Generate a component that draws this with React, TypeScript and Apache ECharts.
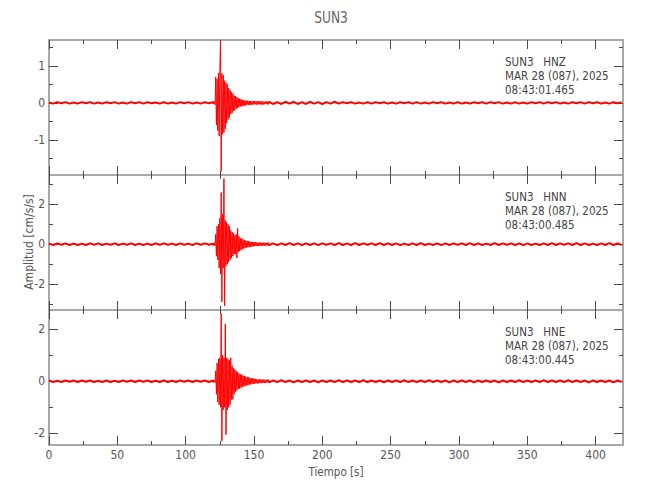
import React, { useEffect, useRef } from "react";
import * as echarts from "echarts";

const FONT = "'Liberation Sans Narrow', 'DejaVu Sans Condensed', 'Roboto Condensed', 'DejaVu Sans', sans-serif";

const xMajorTicks = [0, 50, 100, 150, 200, 250, 300, 350, 400];
const xMinorTicks = [25, 75, 125, 175, 225, 275, 325, 375];

const titleText = "SUN3";
const stationLines = ["SUN3   HNZ", "SUN3   HNN", "SUN3   HNE"];
const dateLine = "MAR 28 (087), 2025";
const startTimes = ["08:43:01.465", "08:43:00.485", "08:43:00.445"];

const yRanges = [
  [-1.95, 1.7],
  [-3.31, 3.48],
  [-2.45, 2.74],
];
const yMajorTicks = [
  [-1, 0, 1],
  [-2, 0, 2],
  [-2, 0, 2],
];
const yMinorTicks = [
  [-1.5, -0.5, 0.5, 1.5],
  [-3, -1, 1, 3],
  [-1, 1],
];

const PRE_START = 0, PRE_STEP = 3;
const EVT_START = 120.5, EVT_STEP = 0.5;
const POST_START = 161, POST_STEP = 3;

// HNZ
const hnzPre = [0.01,-0.02,0.02,-0.01,0.02,-0.02,0.01,-0.02,0.02,-0.01,0.02,-0.02,0.01,-0.02,0.02,-0.01,0.02,-0.02,0.01,-0.02,0.02,-0.01,0.02,-0.02,0.02,-0.01,0.01,-0.02,0.02,-0.02,0.01,-0.02,0.02,-0.01,0.02,-0.02,0.01,-0.02,0.02,-0.01,0.02];
const hnzEvent = [
  -0.03,0.04,-0.05,0.7,-0.6,0.65,-0.75,0.8,-0.9,0.9,
  1.7,-1.85,0.8,-0.85,0.75,-0.8,0.6,-0.7,0.55,-0.55,
  0.5,-0.45,0.4,-0.4,0.35,-0.3,0.3,-0.28,0.25,-0.22,
  0.2,-0.2,0.18,-0.16,0.15,-0.14,0.13,-0.12,0.11,-0.1,
  0.1,-0.09,0.08,-0.09,0.07,-0.07,0.06,-0.07,0.06,-0.05,
  0.06,-0.05,0.05,-0.06,0.05,-0.05,0.04,-0.05,0.05,-0.04,
  0.05,-0.04,0.04,-0.05,0.04,-0.04,0.05,-0.04,0.04,-0.04,
  0.04,-0.05,0.04,-0.04,0.03,-0.04,0.04,-0.03,0.04,-0.04,
];
const hnzPost = [
  0.03,-0.03,0.02,-0.03,0.03,-0.02,0.03,-0.03,0.02,-0.03,
  0.03,-0.02,0.02,-0.03,0.02,-0.02,0.03,-0.02,0.02,-0.01,
  0.02,-0.02,0.01,-0.02,0.02,-0.02,0.02,-0.01,0.02,-0.02,
  0.01,-0.02,0.02,-0.01,0.02,-0.02,0.02,-0.02,0.01,-0.02,
  0.02,-0.01,0.02,-0.02,0.01,-0.02,0.02,-0.02,0.01,-0.02,
  0.02,-0.01,0.02,-0.02,0.02,-0.01,0.02,-0.02,0.01,-0.02,
  0.02,-0.02,0.01,-0.02,0.02,-0.01,0.02,-0.02,0.02,-0.01,
  0.02,-0.02,0.01,-0.02,0.02,-0.01,0.02,-0.02,0.02,-0.01,
  0.02,-0.02,0.01,-0.02,0.02,-0.01,0.02,
];

// HNN
const hnnPre = [
  0.03,-0.04,0.04,-0.03,0.04,-0.04,0.03,-0.04,0.03,-0.04,
  0.04,-0.03,0.04,-0.04,0.03,-0.03,0.04,-0.04,0.03,-0.03,
  0.04,-0.04,0.03,-0.04,0.03,-0.04,0.04,-0.03,0.04,-0.03,
  0.03,-0.04,0.04,-0.03,0.03,-0.04,0.04,-0.03,0.04,-0.03,
  0.03,
];
const hnnEvent = [
  -0.06,0.07,-0.08,0.5,-0.6,0.9,-0.8,1.0,-1.2,1.3,
  -1.5,2.6,-2.9,1.5,-1.2,3.3,-3.1,1.2,-1.1,1.1,
  -1.0,1.0,-0.9,0.9,-0.8,0.7,-0.7,0.6,-0.6,0.55,
  -0.5,0.45,-0.5,0.5,-0.7,0.8,-0.4,0.4,-0.35,0.3,
  -0.3,0.28,-0.25,0.25,-0.22,0.2,-0.2,0.18,-0.17,0.16,
  -0.15,0.15,-0.14,0.13,-0.13,0.12,-0.12,0.11,-0.11,0.1,
  -0.1,0.1,-0.09,0.09,-0.09,0.08,-0.09,0.08,-0.08,0.08,
  -0.08,0.07,-0.08,0.07,-0.07,0.08,-0.07,0.07,-0.07,0.07,
];
const hnnPost = [
  -0.05,0.04,-0.05,0.04,-0.04,0.05,-0.04,0.04,-0.05,0.04,
  -0.04,0.04,-0.05,0.04,-0.03,0.04,-0.04,0.05,-0.04,0.04,
  -0.04,0.05,-0.04,0.04,-0.03,0.04,-0.04,0.05,-0.04,0.04,
  -0.04,0.04,-0.05,0.03,-0.04,0.04,-0.04,0.05,-0.04,0.03,
  -0.04,0.04,-0.05,0.04,-0.04,0.04,-0.03,0.04,-0.04,0.05,
  -0.04,0.04,-0.04,0.03,-0.04,0.05,-0.04,0.04,-0.03,0.04,
  -0.04,0.04,-0.05,0.04,-0.04,0.03,-0.04,0.04,-0.04,0.05,
  -0.04,0.04,-0.03,0.04,-0.04,0.05,-0.04,0.04,-0.04,0.03,
  -0.04,0.04,-0.04,0.05,-0.04,0.04,-0.04,
];

// HNE
const hnePre = [
  0.03,-0.03,0.02,-0.03,0.03,-0.02,0.03,-0.03,0.03,-0.02,
  0.03,-0.03,0.02,-0.03,0.03,-0.03,0.02,-0.03,0.03,-0.02,
  0.03,-0.03,0.03,-0.02,0.03,-0.03,0.02,-0.03,0.03,-0.03,
  0.02,-0.03,0.03,-0.02,0.03,-0.03,0.03,-0.02,0.03,-0.03,
  0.03,
];
const hneEvent = [
  -0.04,0.05,-0.05,0.4,-0.5,0.7,-0.8,0.85,-0.9,0.9,
  -1.0,2.6,-2.3,1.0,-1.1,0.9,-1.0,2.2,-2.05,0.9,
  -1.1,0.85,-1.0,0.8,-0.9,0.9,-0.7,0.6,-0.7,0.5,
  -0.5,0.45,-0.4,0.4,-0.35,0.35,-0.3,0.3,-0.28,0.28,
  -0.25,0.25,-0.22,0.22,-0.2,0.2,-0.18,0.18,-0.16,0.16,
  -0.15,0.15,-0.13,0.13,-0.12,0.12,-0.11,0.11,-0.1,0.1,
  -0.09,0.09,-0.08,0.08,-0.08,0.07,-0.08,0.07,-0.07,0.07,
  -0.06,0.07,-0.06,0.06,-0.07,0.06,-0.06,0.06,-0.05,0.06,
];
const hnePost = [
  -0.04,0.03,-0.03,0.04,-0.03,0.03,-0.04,0.03,-0.03,0.03,
  -0.03,0.03,-0.04,0.03,-0.03,0.03,-0.03,0.04,-0.03,0.03,
  -0.03,0.03,-0.03,0.04,-0.03,0.03,-0.03,0.03,-0.04,0.03,
  -0.03,0.03,-0.03,0.04,-0.03,0.03,-0.03,0.03,-0.03,0.04,
  -0.03,0.03,-0.03,0.03,-0.04,0.03,-0.03,0.03,-0.03,0.03,
  -0.04,0.03,-0.03,0.03,-0.03,0.03,-0.04,0.03,-0.03,0.03,
  -0.03,0.04,-0.03,0.03,-0.03,0.03,-0.03,0.04,-0.03,0.03,
  -0.03,0.03,-0.03,0.04,-0.03,0.03,-0.03,0.03,-0.04,0.03,
  -0.03,0.03,-0.03,0.03,-0.04,0.03,-0.03,
];

function toPoints(values: number[], start: number, step: number) {
  return values.map((v, i) => [start + i * step, v]);
}

const traces = [
  [hnzPre, hnzEvent, hnzPost],
  [hnnPre, hnnEvent, hnnPost],
  [hnePre, hneEvent, hnePost],
].map(([pre, evt, post]) => {
  const p = toPoints(pre, PRE_START, PRE_STEP);
  const e = toPoints(evt, EVT_START, EVT_STEP);
  const q = toPoints(post, POST_START, POST_STEP);
  return { pre: [...p, e[0]], evt: e, post: [e[e.length - 1], ...q] };
});

const AXIS_COLOR = "#a8a8a8";
const TICK_COLOR = "#4a4a4a";
const TEXT_COLOR = "#555555";
const PLOT_LEFT = 49;
const PLOT_WIDTH = 574;
const PANEL_TOPS = [40, 175, 310];
const PANEL_HEIGHT = 135;

function buildOption() {
  const grid: any[] = [];
  const xAxis: any[] = [];
  const yAxis: any[] = [];
  const series: any[] = [];
  const labelStyle = { color: TEXT_COLOR, fontFamily: FONT, fontSize: 12 };

  for (let i = 0; i < 3; i++) {
    grid.push({ left: PLOT_LEFT, width: PLOT_WIDTH, top: PANEL_TOPS[i], height: PANEL_HEIGHT });
    const showX = i === 2;
    (["bottom", "top"] as const).forEach((pos) => {
      xAxis.push({
        type: "value", gridIndex: i, position: pos, min: 0, max: 420,
        axisLine: { show: true, onZero: false, lineStyle: { color: AXIS_COLOR, width: 2 } },
        axisTick: { show: true, inside: true, length: 9, customValues: xMajorTicks, lineStyle: { color: TICK_COLOR, width: 1 } },
        axisLabel: { show: showX && pos === "bottom", customValues: xMajorTicks, margin: 4, ...labelStyle },
        splitLine: { show: false },
      });
      xAxis.push({
        type: "value", gridIndex: i, position: pos, min: 0, max: 420,
        axisLine: { show: false, onZero: false },
        axisTick: { show: true, inside: true, length: 4, customValues: xMinorTicks, lineStyle: { color: TICK_COLOR, width: 1 } },
        axisLabel: { show: false },
        splitLine: { show: false },
      });
    });
    (["left", "right"] as const).forEach((pos) => {
      yAxis.push({
        type: "value", gridIndex: i, position: pos, min: yRanges[i][0], max: yRanges[i][1],
        axisLine: { show: true, onZero: false, lineStyle: { color: AXIS_COLOR, width: 2 } },
        axisTick: { show: true, inside: true, length: 9, customValues: yMajorTicks[i], lineStyle: { color: TICK_COLOR, width: 1 } },
        axisLabel: { show: pos === "left", customValues: yMajorTicks[i], margin: 4, ...labelStyle },
        splitLine: { show: false },
      });
      yAxis.push({
        type: "value", gridIndex: i, position: pos, min: yRanges[i][0], max: yRanges[i][1],
        axisLine: { show: false, onZero: false },
        axisTick: { show: true, inside: true, length: 4, customValues: yMinorTicks[i], lineStyle: { color: TICK_COLOR, width: 1 } },
        axisLabel: { show: false },
        splitLine: { show: false },
      });
    });
    const t = traces[i];
    const common = { type: "line", xAxisIndex: i * 4, yAxisIndex: i * 4, showSymbol: false, symbol: "none", z: 1 };
    series.push({ ...common, data: t.pre, lineStyle: { color: "#ff0000", width: 2 } });
    series.push({ ...common, data: t.evt, lineStyle: { color: "#ff0000", width: 1 } });
    series.push({ ...common, data: t.post, lineStyle: { color: "#ff0000", width: 2 } });
  }

  const graphic: any[] = [
    { type: "text", x: 331, y: 17, scaleX: 0.85, style: { text: titleText, fill: "#666666", font: `16px ${FONT}`, textAlign: "center", textVerticalAlign: "middle" } },
    { type: "text", x: 336, y: 472, style: { text: "Tiempo [s]", fill: TEXT_COLOR, font: `11.5px ${FONT}`, textAlign: "center", textVerticalAlign: "middle" } },
    { type: "text", x: 29, y: 242, rotation: Math.PI / 2, style: { text: "Amplitud [cm/s/s]", fill: TEXT_COLOR, font: `12px ${FONT}`, textAlign: "center", textVerticalAlign: "middle" } },
  ];
  for (let i = 0; i < 3; i++) {
    const top = PANEL_TOPS[i];
    [stationLines[i], dateLine, startTimes[i]].forEach((txt, k) => {
      graphic.push({ type: "text", x: 505, y: top + 21.5 + k * 14.3, style: { text: txt, fill: "#444444", font: `11.5px ${FONT}`, textAlign: "left", textVerticalAlign: "middle" } });
    });
  }

  return { animation: false, backgroundColor: "#ffffff", grid, xAxis, yAxis, series, graphic };
}

export default function App() {
  const ref = useRef<HTMLDivElement>(null);
  useEffect(() => {
    if (!ref.current) return;
    const chart = echarts.init(ref.current, undefined, { renderer: "svg" });
    chart.setOption(buildOption() as any);
    return () => chart.dispose();
  }, []);
  return <div ref={ref} style={{ position: "fixed", left: 0, top: 0, width: 650, height: 500, background: "#fff" }} />;
}
